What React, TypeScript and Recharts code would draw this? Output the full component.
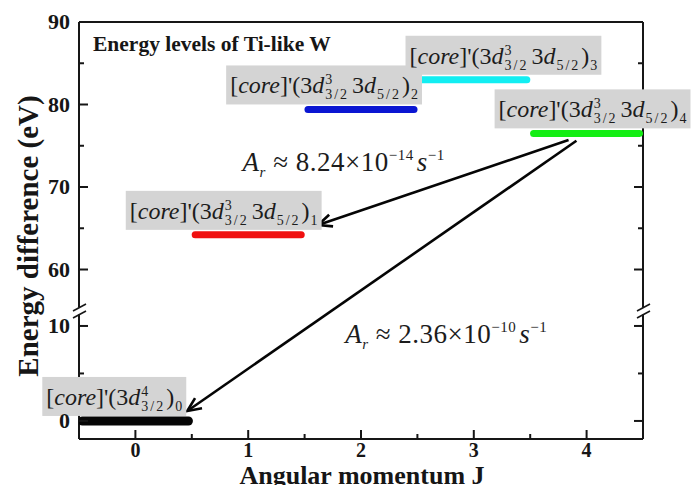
import { useLayoutEffect, useRef, useState } from 'react';
import { ComposedChart, Line, XAxis, YAxis, ReferenceLine, ReferenceDot } from 'recharts';

// energy levels of Ti-like W
const LEVEL_J = [0, 1, 2, 3, 4];
const LEVEL_E = [0, 64.2, 79.4, 83.0, 76.5];
const LEVEL_SUP = ['4', '3', '3', '3', '3'];
const LEVEL_PAIR = [false, true, true, true, true];
const LEVEL_COLORS = ['#050505', '#f01010', '#0a16d2', '#12eef2', '#14ee14'];

// transitions from the J=4 level
const TRANS_FROM_J = [3.84, 3.91];
const TRANS_FROM_E = [75.7, 75.6];
const TRANS_TO_J = [1.62, 0.46];
const TRANS_TO_E = [65.4, 1.05];
const RATE_MANT = ['8.24', '2.36'];
const RATE_EXP = ['14', '10'];

const X_TICKS = [0, 0.5, 1, 1.5, 2, 2.5, 3, 3.5, 4];
const Y_TICKS = [0, 5, 10, 60, 65, 70, 75, 80, 85, 90];

// layout of the annotations (J, eV)
const LABEL_J = [-0.79, -0.05, 0.84, 2.43, 3.22];
const RATE_J = [0.95, 1.86];
const RATE_E = [72.0, 8.2];

// broken y axis: two linear pieces stacked
const X_DOMAIN = [-0.5, 4.5];
const LOW = [-1.9, 11.47];
const HIGH = [54.85, 90];
const PX_LOW = 127;
const PX_HIGH = 290;
const V_MAX = PX_LOW + PX_HIGH;
const BREAK_V = PX_LOW;

const toV = (e: number) =>
  e < 30
    ? ((e - LOW[0]) / (LOW[1] - LOW[0])) * PX_LOW
    : PX_LOW + ((e - HIGH[0]) / (HIGH[1] - HIGH[0])) * PX_HIGH;
const fromV = (v: number) =>
  v <= PX_LOW
    ? LOW[0] + (v / PX_LOW) * (LOW[1] - LOW[0])
    : HIGH[0] + ((v - PX_LOW) / PX_HIGH) * (HIGH[1] - HIGH[0]);

const SERIF = { fontFamily: "'Liberation Serif', serif" };
const INK = '#161616';

function BreakMark({ cx, cy }: any) {
  return (
    <g>
      <line x1={cx - 6} y1={cy - 1} x2={cx + 7} y2={cy - 8} stroke={INK} strokeWidth={1.6} />
      <line x1={cx - 6} y1={cy + 6} x2={cx + 7} y2={cy - 1} stroke={INK} strokeWidth={1.6} />
    </g>
  );
}

function YTickMark({ cx, cy, dir, major }: any) {
  return <line x1={cx} y1={cy} x2={cx + dir * (major ? 9 : 5)} y2={cy} stroke={INK} strokeWidth={2} />;
}

function YTickLabel(props: any) {
  const { x, y, payload } = props;
  const e = Math.round(fromV(payload.value));
  if (e % 10 !== 0) return <g />;
  return (
    <text x={x - 9} y={y + 7} textAnchor="end" style={SERIF} fontWeight="bold" fontSize={22} fill={INK}>
      {e}
    </text>
  );
}

function XTick(props: any) {
  const { x, y, payload, side } = props;
  const v = payload.value;
  const major = Number.isInteger(v);
  const len = major ? 9 : 5;
  const dir = side === 'bottom' ? -1 : 1;
  return (
    <g>
      <line x1={x} y1={y} x2={x} y2={y + dir * len} stroke={INK} strokeWidth={2} />
      {side === 'bottom' && major && (
        <text x={x} y={y + 18} textAnchor="middle" style={SERIF} fontWeight="bold" fontSize={20} fill={INK}>
          {v}
        </text>
      )}
    </g>
  );
}

function FormulaLabel({ x, y, sup, pair, j }: { x: number; y: number; sup: string; pair: boolean; j: number }) {
  const ref = useRef<SVGTextElement>(null);
  const [w, setW] = useState(0);
  useLayoutEffect(() => {
    if (ref.current) setW(ref.current.getBBox().width);
  }, []);
  const S = 14;
  return (
    <g>
      {w > 0 && <rect x={x - 4} y={y - 28} width={w + 8} height={39} fill="#d4d4d4" />}
      <text ref={ref} x={x} y={y} style={SERIF} fontSize={24} fill="#1c1c1c">
        <tspan>[</tspan>
        <tspan fontStyle="italic">core</tspan>
        <tspan>]'(3</tspan>
        <tspan fontStyle="italic">d</tspan>
        <tspan fontSize={S} dx={1} dy={-9}>{sup}</tspan>
        <tspan fontSize={S} dx={-7} dy={15} letterSpacing={2}>3/2</tspan>
        {pair && (
          <>
            <tspan dx={3} dy={-6}>3</tspan>
            <tspan fontStyle="italic">d</tspan>
            <tspan fontSize={S} dx={1} dy={6} letterSpacing={2}>5/2</tspan>
          </>
        )}
        <tspan dx={1} dy={-6}>)</tspan>
        <tspan fontSize={S} dx={1} dy={6}>{j}</tspan>
      </text>
    </g>
  );
}

function RateText({ x, y, mant, exp }: { x: number; y: number; mant: string; exp: string }) {
  const s = 15;
  return (
    <text x={x} y={y} style={SERIF} fontSize={27} fill="#1c1c1c" letterSpacing={0.5}>
      <tspan fontStyle="italic">A</tspan>
      <tspan fontStyle="italic" fontSize={s} dy={6}>r</tspan>
      <tspan dy={-6}>{' \u2248 ' + mant + '\u00d710'}</tspan>
      <tspan fontSize={s} dy={-11}>{'\u2212' + exp}</tspan>
      <tspan fontStyle="italic" dx={3} dy={11}>s</tspan>
      <tspan fontSize={s} dy={-11}>{'\u22121'}</tspan>
    </text>
  );
}

function ArrowShape(props: any) {
  const { x1, y1, x2, y2 } = props;
  const a = Math.atan2(y2 - y1, x2 - x1);
  const L = 15;
  const sp = 0.42;
  const p1 = [x2 - L * Math.cos(a - sp), y2 - L * Math.sin(a - sp)];
  const p2 = [x2 - L * Math.cos(a + sp), y2 - L * Math.sin(a + sp)];
  return (
    <g>
      <line x1={x1} y1={y1} x2={x2} y2={y2} stroke="#050505" strokeWidth={2.6} />
      <path
        d={`M${p1[0]},${p1[1]} L${x2},${y2} L${p2[0]},${p2[1]}`}
        fill="none"
        stroke="#050505"
        strokeWidth={2.6}
      />
    </g>
  );
}

export default function App() {
  const yTicks = Y_TICKS.map(toV);
  const levels = LEVEL_J.map((j, i) => [
    { j: j - 0.47, v: toV(LEVEL_E[i]) },
    { j: j + 0.47, v: toV(LEVEL_E[i]) },
  ]);
  // vertical frame pieces, with a gap at the break
  const sides = [X_DOMAIN[0], X_DOMAIN[1]];
  const pieces = [
    [0, BREAK_V - 2.5],
    [BREAK_V + 4.5, V_MAX],
  ];

  return (
    <div style={{ position: 'absolute', left: 0, top: 0, width: 691, height: 485, background: '#fff' }}>
      <ComposedChart width={691} height={485} margin={{ top: 21, right: 48, bottom: 0, left: 0 }}>
        <XAxis
          xAxisId="b"
          type="number"
          dataKey="j"
          domain={X_DOMAIN}
          allowDataOverflow
          ticks={X_TICKS}
          interval={0}
          height={46}
          tickSize={0}
          tickMargin={0}
          tickLine={false}
          axisLine={{ stroke: INK, strokeWidth: 2 }}
          tick={<XTick side="bottom" />}
        />
        <XAxis
          xAxisId="t"
          orientation="top"
          type="number"
          domain={X_DOMAIN}
          allowDataOverflow
          ticks={X_TICKS}
          interval={0}
          height={1}
          tickSize={0}
          tickMargin={0}
          tickLine={false}
          axisLine={{ stroke: INK, strokeWidth: 2 }}
          tick={<XTick side="top" />}
        />
        <YAxis
          yAxisId="l"
          type="number"
          domain={[0, V_MAX]}
          allowDataOverflow
          ticks={yTicks}
          interval={0}
          width={79}
          tickSize={0}
          tickMargin={0}
          tickLine={false}
          axisLine={false}
          tick={<YTickLabel />}
        />
        <YAxis yAxisId="r" orientation="right" type="number" domain={[0, V_MAX]} width={1} hide />

        {sides.map((sx) =>
          pieces.map((pc, k) => (
            <ReferenceLine
              key={`frame-${sx}-${k}`}
              xAxisId="b"
              yAxisId="l"
              ifOverflow="visible"
              segment={[
                { x: sx, y: pc[0] },
                { x: sx, y: pc[1] },
              ]}
              stroke={INK}
              strokeWidth={2}
            />
          ))
        )}
        {sides.map((sx, k) =>
          yTicks.map((v, t) => (
            <ReferenceDot
              key={`ytick-${k}-${t}`}
              xAxisId="b"
              yAxisId="l"
              ifOverflow="visible"
              x={sx}
              y={v}
              shape={(p: any) => (
                <YTickMark cx={p.cx} cy={p.cy} dir={k === 0 ? 1 : -1} major={Y_TICKS[t] % 10 === 0} />
              )}
            />
          ))
        )}
        {sides.map((sx) => (
          <ReferenceDot
            key={`break-${sx}`}
            xAxisId="b"
            yAxisId="l"
            ifOverflow="visible"
            x={sx}
            y={BREAK_V}
            shape={BreakMark}
          />
        ))}

        {levels.map((d, i) => (
          <Line
            key={`level-${i}`}
            data={d}
            xAxisId="b"
            yAxisId="l"
            dataKey="v"
            type="linear"
            stroke={LEVEL_COLORS[i]}
            strokeWidth={i === 0 ? 9 : 7}
            strokeLinecap="round"
            dot={false}
            activeDot={false}
            isAnimationActive={false}
          />
        ))}

        {TRANS_FROM_J.map((fj, i) => (
          <ReferenceLine
            key={`arrow-${i}`}
            xAxisId="b"
            yAxisId="l"
            ifOverflow="visible"
            segment={[
              { x: fj, y: toV(TRANS_FROM_E[i]) },
              { x: TRANS_TO_J[i], y: toV(TRANS_TO_E[i]) },
            ]}
            shape={ArrowShape}
          />
        ))}

        {LEVEL_J.map((j, i) => (
          <ReferenceDot
            key={`label-${i}`}
            xAxisId="b"
            yAxisId="l"
            ifOverflow="visible"
            x={LABEL_J[i]}
            y={toV(LEVEL_E[i])}
            shape={(p: any) => (
              <FormulaLabel x={p.cx} y={p.cy - 16} sup={LEVEL_SUP[i]} pair={LEVEL_PAIR[i]} j={j} />
            )}
          />
        ))}

        {RATE_MANT.map((m, i) => (
          <ReferenceDot
            key={`rate-${i}`}
            xAxisId="b"
            yAxisId="l"
            ifOverflow="visible"
            x={RATE_J[i]}
            y={toV(RATE_E[i])}
            shape={(p: any) => <RateText x={p.cx} y={p.cy} mant={m} exp={RATE_EXP[i]} />}
          />
        ))}
      </ComposedChart>

      <svg width={691} height={485} style={{ position: 'absolute', left: 0, top: 0, pointerEvents: 'none' }}>
        <text x={93} y={51} style={SERIF} fontWeight="bold" fontSize={21.5} fill={INK}>
          Energy levels of Ti-like W
        </text>
        <text
          transform="translate(38,236) rotate(-90)"
          textAnchor="middle"
          style={SERIF}
          fontWeight="bold"
          fontSize={29}
          fill={INK}
        >
          Energy difference (eV)
        </text>
        <text x={362} y={483.5} textAnchor="middle" style={SERIF} fontWeight="bold" fontSize={26} fill={INK}>
          Angular momentum J
        </text>
      </svg>
    </div>
  );
}
